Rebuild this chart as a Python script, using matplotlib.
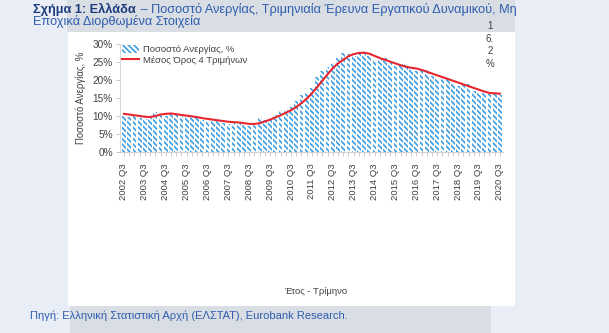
import matplotlib
matplotlib.use("Agg")
import matplotlib.pyplot as plt
from matplotlib.patches import Rectangle
from matplotlib.lines import Line2D
from matplotlib.patches import Patch
import numpy as np

plt.rcParams['font.family'] = ['Liberation Sans', 'DejaVu Sans']

# ---------------- data ----------------
years = list(range(2002, 2021))
quarters = [f"{y} Q{q}" for y in range(2002, 2021) for q in (1, 2, 3, 4)][2:-1]  # 2002 Q3 .. 2020 Q3

unemployment = [
    9.9, 9.7,
    9.9, 9.5, 9.3, 9.4,
    11.2, 10.3, 10.0, 10.5,
    10.4, 9.9, 9.6, 9.7,
    9.6, 8.9, 8.6, 8.9,
    8.9, 8.1, 7.9, 8.1,
    8.0, 7.4, 7.3, 7.9,
    9.4, 8.9, 9.3, 10.3,
    11.7, 11.8, 12.4, 14.2,
    15.9, 16.3, 17.8, 20.7,
    22.6, 23.6, 24.8, 26.0,
    27.4, 27.1, 26.8, 27.3,
    27.6, 26.6, 25.5, 25.9,
    26.2, 24.6, 24.0, 24.4,
    24.4, 23.1, 22.6, 23.1,
    22.9, 21.1, 20.4, 20.8,
    20.5, 19.0, 18.3, 18.6,
    18.9, 17.0, 16.4, 16.4,
    16.2, 16.6, 15.9,
]

avg4q = [
    10.6, 10.4,
    10.2, 10.0, 9.8, 9.7,
    10.0, 10.4, 10.6, 10.7,
    10.5, 10.3, 10.1, 9.9,
    9.7, 9.4, 9.2, 9.0,
    8.8, 8.6, 8.4, 8.3,
    8.2, 8.0, 7.8, 7.8,
    8.0, 8.5, 9.0, 9.6,
    10.2, 10.9, 11.6, 12.5,
    13.6, 14.8, 16.3, 18.0,
    19.8, 21.6, 23.3, 24.6,
    25.6, 26.6, 27.2, 27.5,
    27.6, 27.3, 26.7, 26.1,
    25.6, 25.1, 24.6, 24.1,
    23.7, 23.4, 23.2, 22.8,
    22.3, 21.8, 21.3, 20.8,
    20.3, 19.8, 19.3, 18.8,
    18.3, 17.8, 17.3, 16.8,
    16.4, 16.3, 16.2,
]

label_ticks = [f"{y} Q3" for y in years]
last_label = "1\n6.\n2\n%"

# ---------------- figure ----------------
W, H = 609, 333
fig = plt.figure(figsize=(W / 100, H / 100), dpi=100, facecolor='#e9eef6')

def rect(x0, y0, x1, y1, color):
    fig.add_artist(Rectangle((x0 / W, 1 - y1 / H), (x1 - x0) / W, (y1 - y0) / H,
                             transform=fig.transFigure, facecolor=color,
                             edgecolor='none', zorder=-10))

rect(67, 0, 515, 32, '#d9dee5')
rect(70, 306, 491, 333, '#d9dee5')
rect(68, 32, 515, 306, 'white')

ax_l, ax_r, ax_t, ax_b = 119.8, 503, 44, 152
ax = fig.add_axes([ax_l / W, 1 - ax_b / H, (ax_r - ax_l) / W, (ax_b - ax_t) / H])
ax.set_facecolor('none')

HATCH = '\\' * 6
BLUE = '#3c9de2'
RED = '#e8262e'

x = np.arange(len(quarters))
plt.rcParams['hatch.linewidth'] = 1.2
ax.bar(x, unemployment, width=0.72, facecolor='white', edgecolor=BLUE,
       linewidth=0, hatch=HATCH, zorder=2)
ax.plot(x, avg4q, color=RED, lw=1.5, zorder=3)

ax.set_xlim(-0.8, len(quarters) - 0.4)
ax.set_ylim(0, 30)
ax.set_yticks([0, 5, 10, 15, 20, 25, 30])
ax.set_yticklabels([f"{v}%" for v in [0, 5, 10, 15, 20, 25, 30]])
major_pos = [quarters.index(l) for l in label_ticks]
ax.set_xticks(major_pos)
ax.set_xticklabels(label_ticks, rotation=90)
ax.set_xticks(x, minor=True)
ax.tick_params(axis='x', which='both', length=3, width=0.6, color='#d8b4b4',
               labelsize=6.8, labelcolor='#404040', pad=5)
ax.tick_params(axis='y', length=3, width=0.6, color='#bbbbbb', labelsize=7.2,
               labelcolor='#404040', pad=2)
for s in ['top', 'right']:
    ax.spines[s].set_visible(False)
ax.spines['left'].set_color('#cfcfcf')
ax.spines['left'].set_linewidth(0.6)
ax.spines['bottom'].set_color('#c8c8c8')
ax.spines['bottom'].set_linewidth(0.6)

ax.set_ylabel('Ποσοστό Ανεργίας, %', fontsize=6.9, color='#404040', labelpad=5)

handles = [Patch(facecolor='white', edgecolor=BLUE, linewidth=0, hatch=HATCH),
           Line2D([0], [0], color=RED, lw=1.5)]
leg = ax.legend(handles, ['Ποσοστό Ανεργίας, %', 'Μέσος Όρος 4 Τριμήνων'],
                loc='upper left', bbox_to_anchor=(-0.01, 1.04), frameon=False,
                fontsize=6.8, handlelength=1.8, handleheight=0.8,
                handletextpad=0.5, labelspacing=0.15, borderaxespad=0.2)
for t in leg.get_texts():
    t.set_color('#404040')

fig.text(316 / W, 1 - 292 / H, 'Έτος - Τρίμηνο', fontsize=6.8, color='#404040',
         ha='center', va='center')

fig.text(490 / W, 1 - 45 / H, last_label, fontsize=7, color='#404040',
         ha='center', va='center', linespacing=1.3)

# title
TS = 9.2
t1 = fig.text(33 / W, 1 - 13.5 / H, 'Σχήμα 1: Ελλάδα', fontsize=TS, fontweight='bold',
              color='#1c3a7c', ha='left', va='baseline')
fig.canvas.draw()
bb = t1.get_window_extent(fig.canvas.get_renderer())
fig.text(bb.x1 / W + 1 / W, 1 - 13.5 / H,
         ' – Ποσοστό Ανεργίας, Τριμηνιαία Έρευνα Εργατικού Δυναμικού, Μη',
         fontsize=TS, color='#2f5cae', ha='left', va='baseline')
fig.text(33 / W, 1 - 25.5 / H, 'Εποχικά Διορθωμένα Στοιχεία', fontsize=TS,
         color='#2f5cae', ha='left', va='baseline')

fig.text(30 / W, 1 - 319 / H, 'Πηγή: Ελληνική Στατιστική Αρχή (ΕΛΣΤΑΤ), Eurobank Research.',
         fontsize=8.0, color='#2f5cae', ha='left', va='baseline')

fig.savefig('out.png', dpi=100, facecolor=fig.get_facecolor())
